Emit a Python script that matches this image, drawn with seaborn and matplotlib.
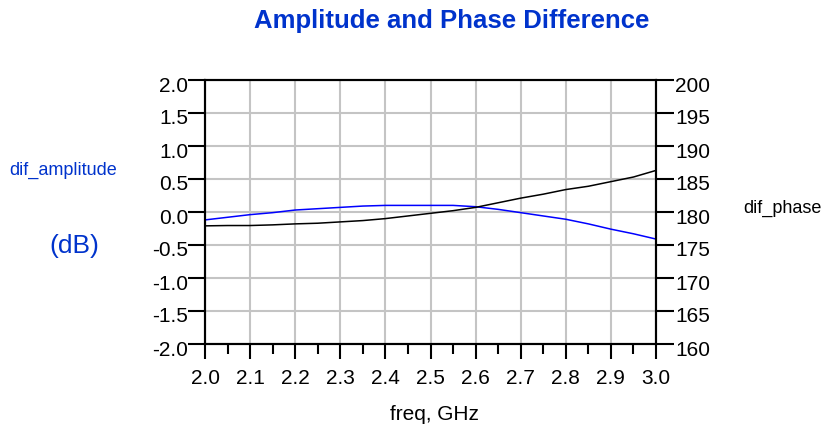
import matplotlib
matplotlib.use("Agg")
import matplotlib.pyplot as plt
import matplotlib.transforms as mtransforms
import seaborn as sns
import pandas as pd
from matplotlib.ticker import MultipleLocator

freq = [2.00, 2.05, 2.10, 2.15, 2.20, 2.25, 2.30, 2.35, 2.40, 2.45, 2.50,
        2.55, 2.60, 2.65, 2.70, 2.75, 2.80, 2.85, 2.90, 2.95, 3.00]
dif_amplitude = [-0.12, -0.08, -0.04, -0.01, 0.03, 0.05, 0.07, 0.09, 0.10, 0.10, 0.10,
                 0.10, 0.08, 0.04, -0.01, -0.06, -0.11, -0.18, -0.26, -0.33, -0.41]
dif_phase = [177.9, 177.95, 177.95, 178.05, 178.2, 178.3, 178.5, 178.7, 179.0, 179.4, 179.8,
             180.2, 180.7, 181.4, 182.1, 182.7, 183.4, 183.9, 184.6, 185.3, 186.3]
x_ticks = [2.0, 2.1, 2.2, 2.3, 2.4, 2.5, 2.6, 2.7, 2.8, 2.9, 3.0]
left_ticks = [-2.0, -1.5, -1.0, -0.5, 0.0, 0.5, 1.0, 1.5, 2.0]
right_ticks = [160, 165, 170, 175, 180, 185, 190, 195, 200]

sns.set_style("white")
plt.rcParams['font.family'] = ['Liberation Sans', 'DejaVu Sans']
plt.rcParams['text.color'] = 'black'
plt.rcParams['xtick.color'] = 'black'
plt.rcParams['ytick.color'] = 'black'
plt.rcParams['xtick.labelcolor'] = 'black'
plt.rcParams['ytick.labelcolor'] = 'black'

df = pd.DataFrame({"freq": freq, "amp": dif_amplitude, "phase": dif_phase})

fig = plt.figure(figsize=(8.25, 4.28), dpi=100)
ax = fig.add_axes([205/825, 1-344/428, (656-205)/825, (344-80)/428])
ax2 = ax.twinx()

sns.lineplot(data=df, x="freq", y="amp", ax=ax, color="#0000ff", linewidth=1.1)
sns.lineplot(data=df, x="freq", y="phase", ax=ax2, color="black", linewidth=1.1)

ax.set_xlim(2.0, 3.0)
ax.set_ylim(-2.0, 2.0)
ax2.set_ylim(160, 200)
ax.set_xticks(x_ticks)
ax.set_xticklabels([f"{v:.1f}" for v in x_ticks])
ax.xaxis.set_minor_locator(MultipleLocator(0.05))
ax.set_yticks(left_ticks)
ax.set_yticklabels([f"{v:.1f}" for v in left_ticks])
ax2.set_yticks(right_ticks)
ax2.set_yticklabels([str(v) for v in right_ticks])

ax.grid(True, which="major", color="#c4c4c4", linewidth=1.5)
ax.set_axisbelow(True)
for a in (ax, ax2):
    for s in a.spines.values():
        s.set_color("black")
        s.set_linewidth(1.5)

ax.tick_params(axis="x", which="major", direction="out", length=11, width=1.5,
               labelsize=15, pad=7, bottom=True, colors="black")
ax.tick_params(axis="x", which="minor", direction="out", length=7, width=1.5,
               bottom=True, colors="black")
ax.tick_params(axis="y", which="major", direction="out", length=12, width=1.5,
               labelsize=15, pad=0, left=True, colors="black")
ax2.tick_params(axis="y", which="major", direction="out", length=13, width=1.5,
                labelsize=15, pad=1, right=True, colors="black")

shift = mtransforms.ScaledTranslation(0, -4/100, fig.dpi_scale_trans)
for lbl in ax.get_yticklabels() + ax2.get_yticklabels():
    lbl.set_transform(lbl.get_transform() + shift)

ax.set_xlabel("")
ax.set_ylabel("")
ax2.set_ylabel("")

fig.text(452/825, 1-21/428, "Amplitude and Phase Difference", color="#0033cc",
         fontsize=18.5, fontweight="bold", ha="center", va="center")
fig.text(434/825, 1-414/428, "freq, GHz", fontsize=15, ha="center", va="center",
         color="black")
fig.text(63/825, 1-170/428, "dif_amplitude", color="#0033cc", fontsize=13,
         ha="center", va="center")
fig.text(74/825, 1-246/428, "(dB)", color="#0033cc", fontsize=19,
         ha="center", va="center")
fig.text(782/825, 1-208/428, "dif_phase", fontsize=13, ha="center", va="center",
         color="black")

fig.savefig("out.png", dpi=100)
